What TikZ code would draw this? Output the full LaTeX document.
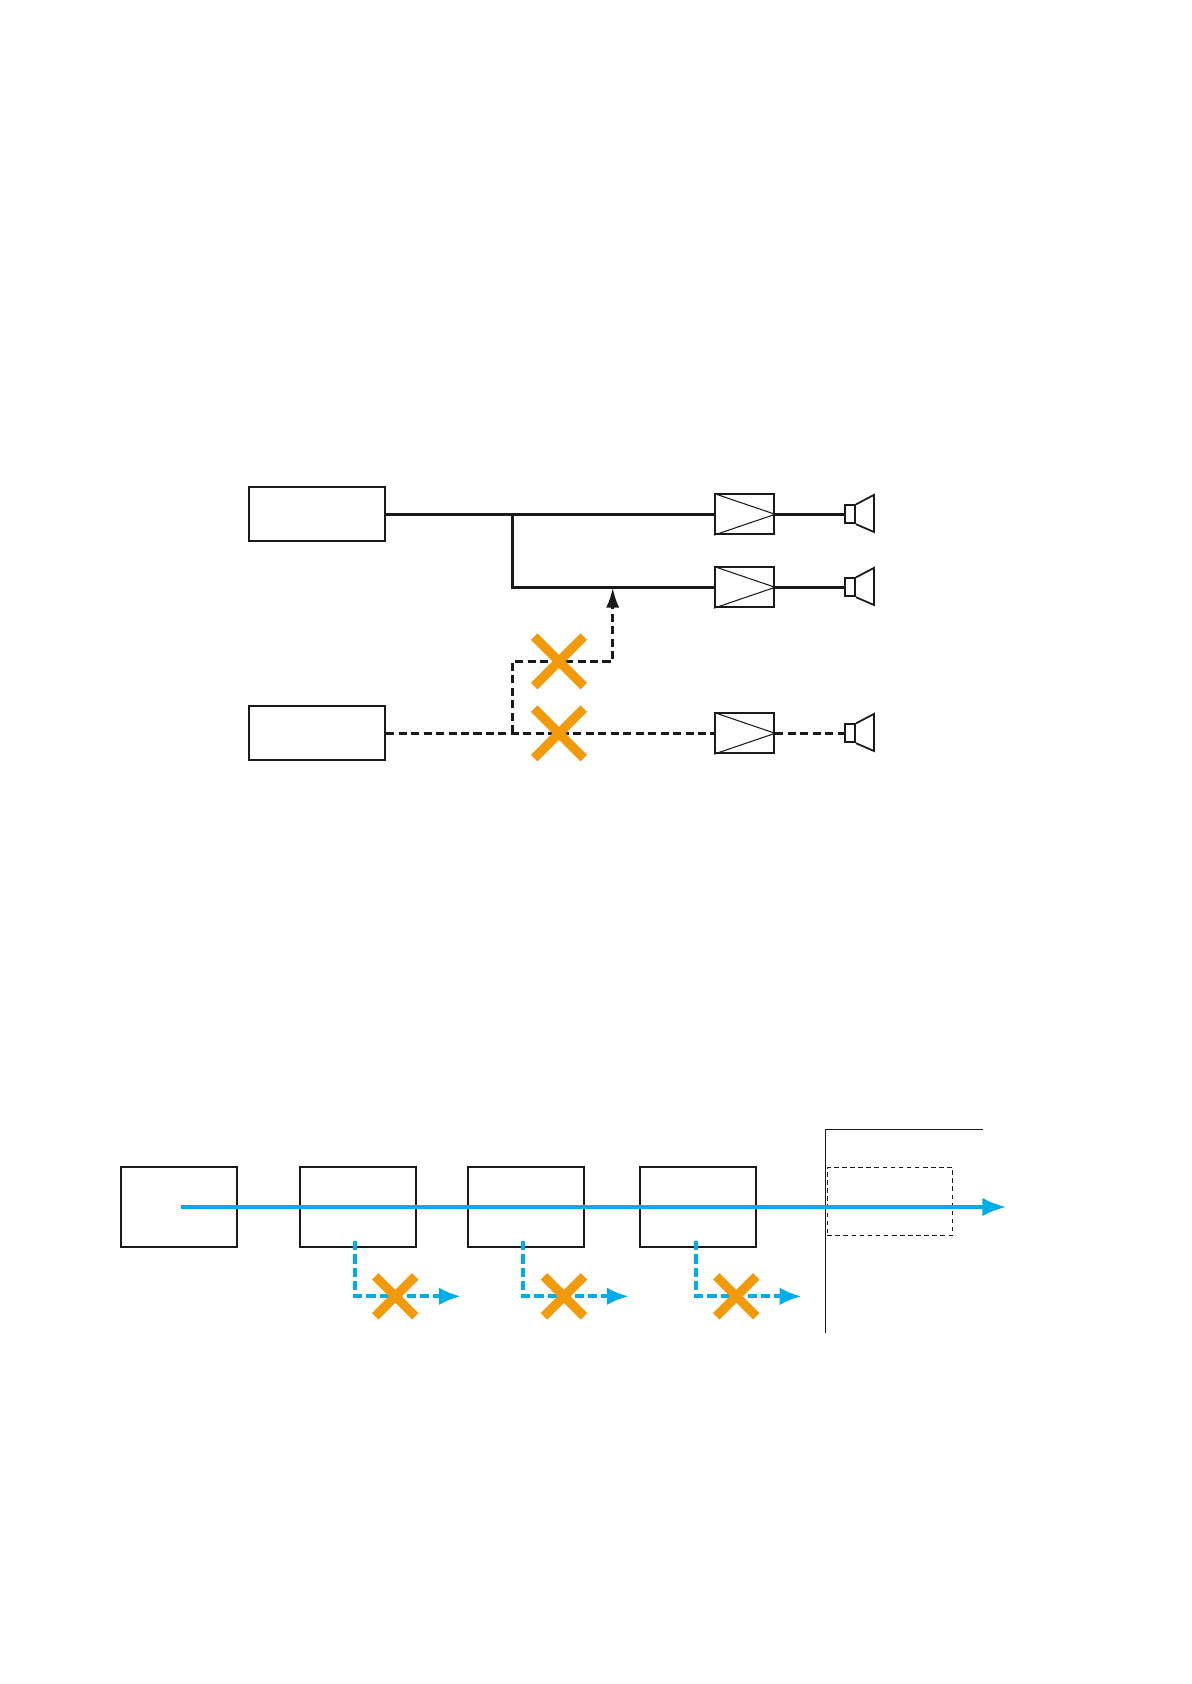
\documentclass[tikz,border=0pt]{standalone}
\usepackage{xcolor}
\definecolor{signalblue}{HTML}{00ADE9}
\definecolor{crossorange}{HTML}{F39A0B}
\definecolor{linedark}{HTML}{1A1A1A}
\usepackage{tikz}
\usetikzlibrary{arrows.meta,shapes.misc}
\tikzset{
  srcbox/.style={rectangle, draw=linedark, line width=1.3pt, minimum width=2.72cm, minimum height=1.08cm, inner sep=0pt},
  blockbox/.style={rectangle, draw=linedark, line width=1.3pt, minimum width=2.32cm, minimum height=1.6cm, inner sep=0pt},
  blockthin/.style={blockbox, line width=0.95pt},
  ampbox/.style={rectangle, draw=linedark, line width=1pt, minimum width=1.19cm, minimum height=0.8cm, inner sep=0pt},
  spkbox/.style={rectangle, draw=linedark, line width=1pt, minimum width=0.2cm, minimum height=0.36cm, inner sep=0pt},
  thinline/.style={draw=linedark, line width=0.6pt},
  hornline/.style={draw=linedark, line width=1pt, line join=miter},
  sigline/.style={draw=linedark, line width=1.9pt},
  sigdash/.style={draw=linedark, line width=1.9pt, dash pattern=on 4.6pt off 2.5pt},
  sigarr/.style={sigdash, -{Latex[length=11.5pt, width=7.5pt, color=linedark]}},
  bluemain/.style={draw=signalblue, line width=2.65pt, -{Latex[length=14pt, width=10.5pt]}},
  bluedash/.style={draw=signalblue, line width=2.3pt, dash pattern=on 5.2pt off 2.4pt, -{Latex[length=12.5pt, width=10pt, color=signalblue]}},
  xbig/.style={cross out, draw=crossorange, line width=5.2pt, minimum size=0.99cm, inner sep=0pt, outer sep=0pt},
  xsmall/.style={cross out, draw=crossorange, line width=5.2pt, minimum size=0.8cm, inner sep=0pt, outer sep=0pt},
  framebox/.style={draw=linedark, line width=0.65pt},
  dashbox/.style={rectangle, draw=linedark, line width=0.6pt, dash pattern=on 2.6pt off 2pt, minimum width=2.5cm, minimum height=1.37cm, inner sep=0pt},
}
\begin{document}
\begin{tikzpicture}[x=0.02cm, y=-0.02cm]
  \useasboundingbox (0,0) rectangle (1191,1684);

  % Sources
  \node[srcbox] (src1) at (317,514.3) {};
  \node[srcbox] (src2) at (317,733.3) {};

  % Amplifiers
  \node[ampbox] (amp1) at (744.5,514.3) {};
  \node[ampbox] (amp2) at (744.5,587.3) {};
  \node[ampbox] (amp3) at (744.5,733.3) {};
  \draw[thinline] (amp1.north west) -- (amp1.east) -- (amp1.south west);
  \draw[thinline] (amp2.north west) -- (amp2.east) -- (amp2.south west);
  \draw[thinline] (amp3.north west) -- (amp3.east) -- (amp3.south west);

  % Speakers
  \node[spkbox] (spk1) at (850,514.3) {};
  \node[spkbox] (spk2) at (850,587.3) {};
  \node[spkbox] (spk3) at (850,733.3) {};
  \draw[hornline] (spk1.north east) -- ++(18,-9.5) -- ++(0,37) -- (spk1.south east);
  \draw[hornline] (spk2.north east) -- ++(18,-9.5) -- ++(0,37) -- (spk2.south east);
  \draw[hornline] (spk3.north east) -- ++(18,-9.5) -- ++(0,37) -- (spk3.south east);

  % Junctions
  \coordinate (jn1) at (512.3,514.3);
  \coordinate (jn2) at (512.3,587.3);
  \coordinate (jn3) at (512.3,733.3);
  \coordinate (jn4) at (512.3,661.3);
  \coordinate (jn5) at (612.7,661.3);
  \coordinate (jn6) at (612.7,587.3);

  % Solid signal lines
  \draw[sigline] (src1) -- (amp1);
  \draw[sigline] (jn1) -- (jn2) -- (amp2);
  \draw[sigline] (amp1) -- (spk1);
  \draw[sigline] (amp2) -- (spk2);

  % Dashed signal lines
  \draw[sigdash] (src2) -- (amp3);
  \draw[sigdash] (amp3) -- (spk3);
  \draw[sigarr] (jn3) -- (jn4) -- (jn5) -- (jn6);

  % Crosses
  \node[xbig] (xa) at (559,661.3) {};
  \node[xbig] (xb) at (559,733.3) {};

  % Blocks
  \node[blockbox]  (blk1) at (179,1206.7)   {};
  \node[blockthin] (blk2) at (358.3,1206.7) {};
  \node[blockbox]  (blk3) at (525.8,1206.7) {};
  \node[blockthin] (blk4) at (698.3,1206.7) {};

  % Frame
  \coordinate (frm1) at (983,1129.3);
  \coordinate (frm2) at (825.3,1129.3);
  \coordinate (frm3) at (825.3,1332.7);
  \draw[framebox] (frm1) -- (frm2) -- (frm3);
  \node[dashbox] (zone) at (889.8,1201.5) {};

  % Main path
  \coordinate (mainin)  at (181,1207);
  \coordinate (mainout) at (1007,1207);
  \draw[bluemain] (mainin) -- (mainout);

  % Branches
  \coordinate (tap1) at (355,1241);
  \coordinate (tap2) at (523,1241);
  \coordinate (tap3) at (696,1241);
  \coordinate (out1) at (461,1296.3);
  \coordinate (out2) at (629,1296.3);
  \coordinate (out3) at (801.7,1296.3);
  \draw[bluedash] (tap1) |- (out1);
  \draw[bluedash] (tap2) |- (out2);
  \draw[bluedash] (tap3) |- (out3);

  % Branch crosses
  \node[xsmall] (xc) at (395.3,1296.3) {};
  \node[xsmall] (xd) at (564,1296.3)   {};
  \node[xsmall] (xe) at (736.3,1296.3) {};
\end{tikzpicture}
\end{document}
